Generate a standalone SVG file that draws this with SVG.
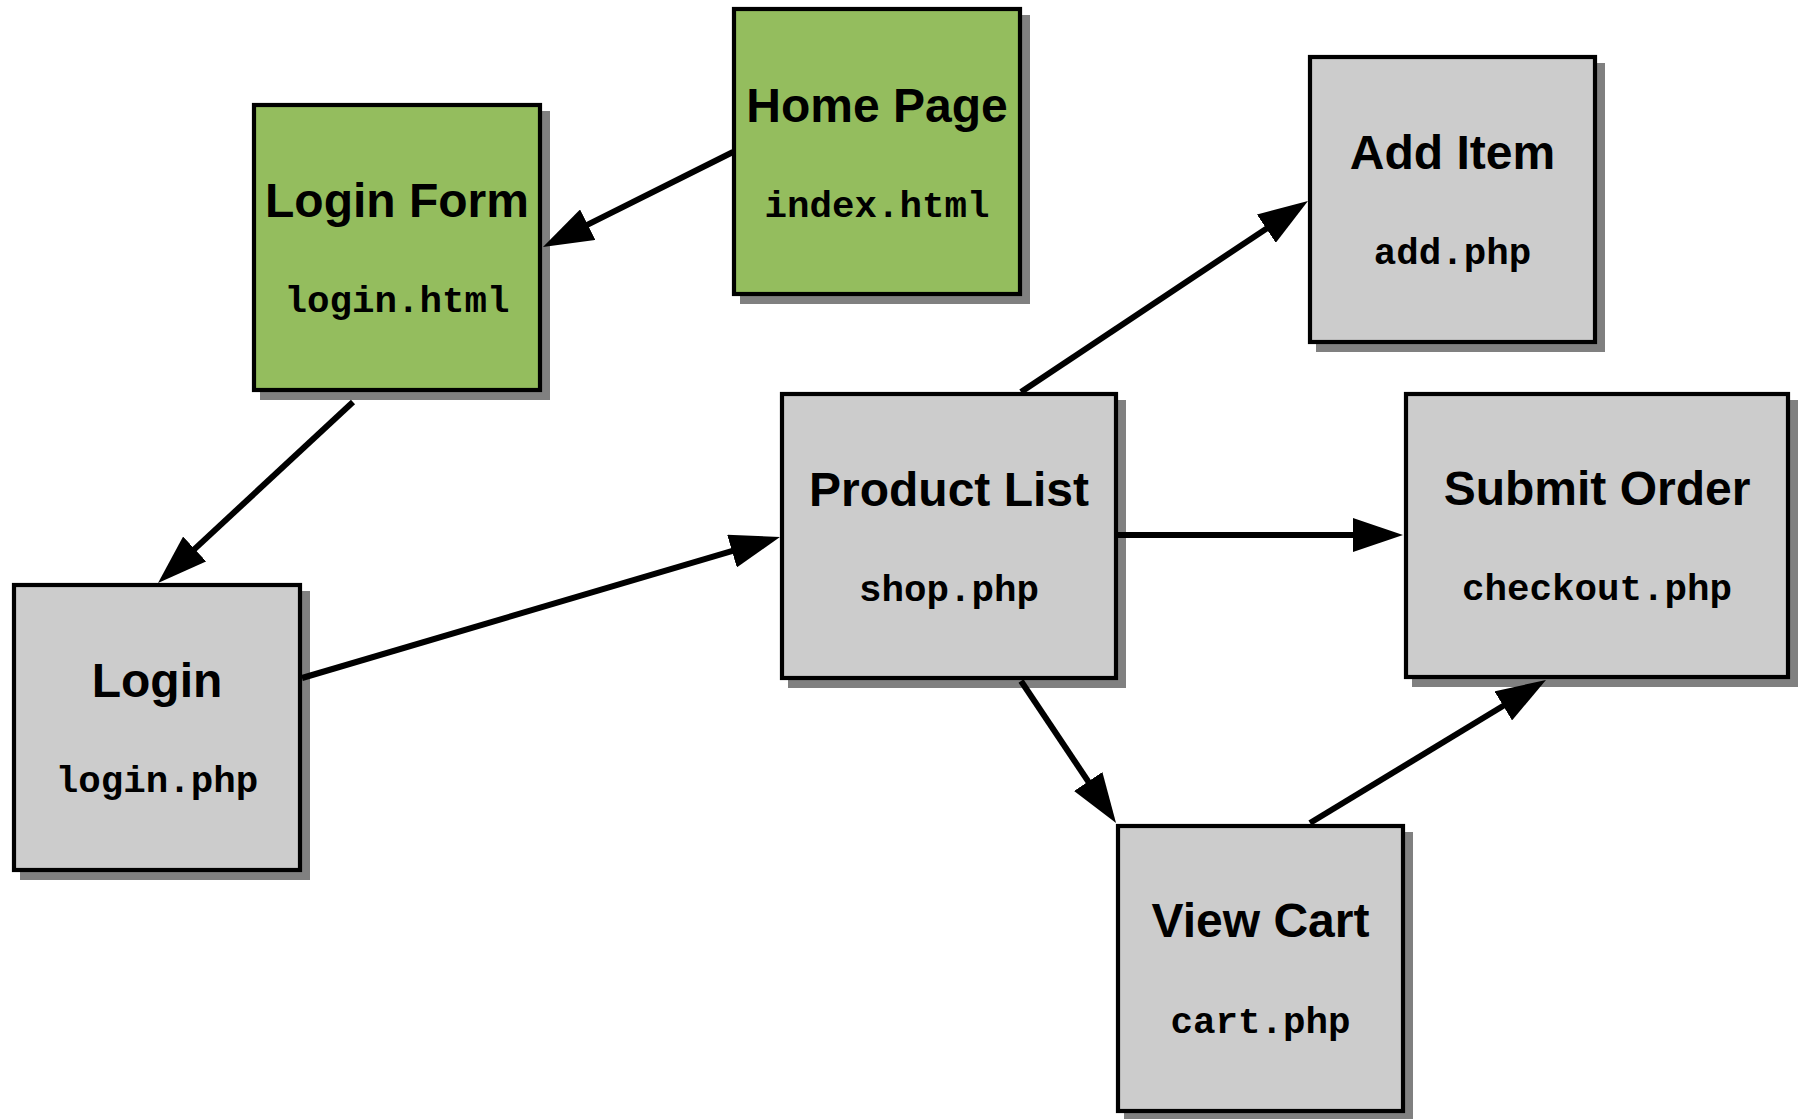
<svg xmlns="http://www.w3.org/2000/svg" width="1803" height="1119" viewBox="0 0 1803 1119">
  <style>
    .shadow { fill: #808080; }
    .box { stroke: #000; stroke-width: 4.2; }
    .green { fill: #94BD5E; }
    .gray { fill: #CCCCCC; }
    .title { font-family: "Liberation Sans", Arial, sans-serif; font-weight: bold; font-size: 48px; fill: #000; text-anchor: middle; }
    .file { font-family: "Liberation Mono", "Courier New", monospace; font-weight: bold; font-size: 37.5px; fill: #000; text-anchor: middle; }
    .edge { fill: none; stroke: #000; stroke-width: 6; marker-end: url(#arrow); }
  </style>
  <defs>
    <marker id="arrow" markerUnits="userSpaceOnUse" markerWidth="50" markerHeight="34" refX="5" refY="17" orient="auto">
      <path d="M0,0 L50,17 L0,34 z" fill="#000"/>
    </marker>
  </defs>
  <rect width="1803" height="1119" fill="#fff"/>

  <g id="home">
    <rect class="shadow" x="740" y="15" width="290" height="289"/>
    <rect class="box green" x="734" y="9" width="286" height="285"/>
    <text class="title" x="877" y="122">Home Page</text>
    <text class="file" x="877" y="217">index.html</text>
  </g>

  <g id="login-form">
    <rect class="shadow" x="260" y="111" width="290" height="289"/>
    <rect class="box green" x="254" y="105" width="286" height="285"/>
    <text class="title" x="397" y="217">Login Form</text>
    <text class="file" x="397" y="312">login.html</text>
  </g>

  <g id="login">
    <rect class="shadow" x="20" y="591" width="290" height="289"/>
    <rect class="box gray" x="14" y="585" width="286" height="285"/>
    <text class="title" x="157" y="697">Login</text>
    <text class="file" x="157" y="792">login.php</text>
  </g>

  <g id="product-list">
    <rect class="shadow" x="788" y="400" width="338" height="288"/>
    <rect class="box gray" x="782" y="394" width="334" height="284"/>
    <text class="title" x="949" y="506">Product List</text>
    <text class="file" x="949" y="601">shop.php</text>
  </g>

  <g id="add-item">
    <rect class="shadow" x="1316" y="63" width="289" height="289"/>
    <rect class="box gray" x="1310" y="57" width="285" height="285"/>
    <text class="title" x="1452.5" y="169">Add Item</text>
    <text class="file" x="1452.5" y="264">add.php</text>
  </g>

  <g id="submit-order">
    <rect class="shadow" x="1412" y="400" width="386" height="287"/>
    <rect class="box gray" x="1406" y="394" width="382" height="283"/>
    <text class="title" x="1597" y="505">Submit Order</text>
    <text class="file" x="1597" y="600">checkout.php</text>
  </g>

  <g id="view-cart">
    <rect class="shadow" x="1124" y="832" width="289" height="289"/>
    <rect class="box gray" x="1118" y="826" width="285" height="285"/>
    <text class="title" x="1260.5" y="937">View Cart</text>
    <text class="file" x="1260.5" y="1033">cart.php</text>
  </g>

  <g id="connectors">
    <path class="edge" d="M733,152 L583.2,226.9"/>
    <path class="edge" d="M353,402 L191,552.4"/>
    <path class="edge" d="M302,678 L736.8,549.7"/>
    <path class="edge" d="M1021,392 L1270.5,225.9"/>
    <path class="edge" d="M1118,535 L1358,535"/>
    <path class="edge" d="M1021,681 L1091,785.6"/>
    <path class="edge" d="M1310,823 L1507.5,703.3"/>
  </g>
</svg>
